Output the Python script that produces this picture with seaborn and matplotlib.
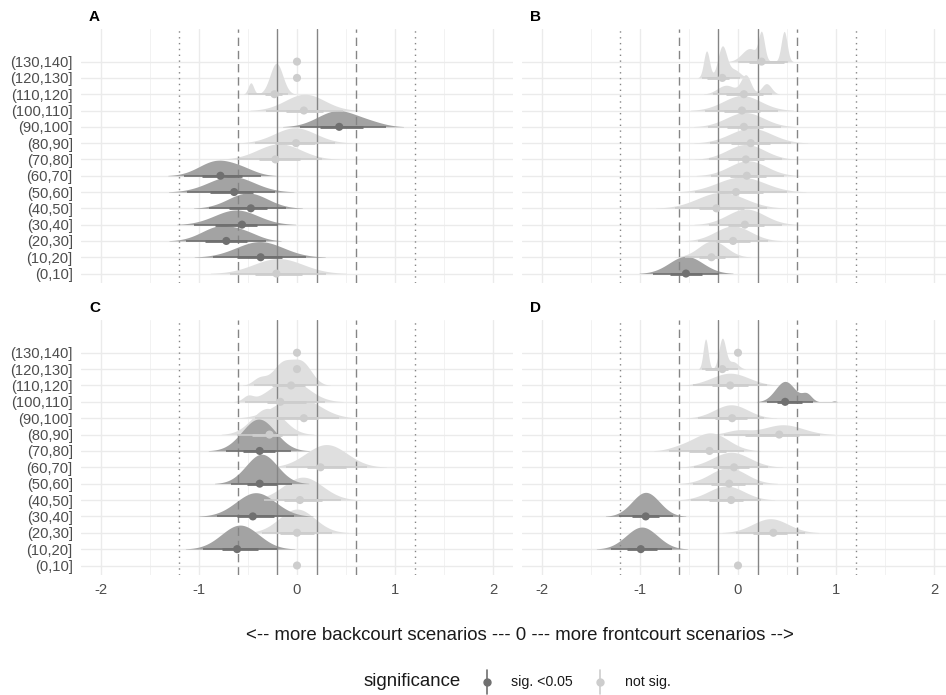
import numpy as np
import pandas as pd
import matplotlib
matplotlib.use("Agg")
import matplotlib.pyplot as plt
import seaborn as sns
from matplotlib.lines import Line2D

# ---------------- data ----------------
rows = ["(0,10]", "(10,20]", "(20,30]", "(30,40]", "(40,50]", "(50,60]", "(60,70]",
        "(70,80]", "(80,90]", "(90,100]", "(100,110]", "(110,120]", "(120,130]", "(130,140]"]
panels = ["A", "B", "C", "D"]

# point estimates (medians)
A_median = [-0.21, -0.37, -0.72, -0.56, -0.47, -0.64, -0.78, -0.22, -0.01, 0.43, 0.07, -0.23, 0.0, 0.0]
B_median = [-0.53, -0.27, -0.05, 0.07, -0.22, -0.02, 0.09, 0.08, 0.13, 0.06, 0.04, 0.06, -0.16, 0.24]
C_median = [0.0, -0.61, 0.0, -0.45, 0.03, -0.38, 0.24, -0.38, -0.28, 0.07, -0.17, -0.06, 0.0, 0.0]
D_median = [0.0, -0.99, 0.36, -0.94, -0.07, -0.09, -0.04, -0.29, 0.42, -0.06, 0.48, -0.08, -0.16, 0.0]

# significance flags (1 = sig. <0.05)
A_sig = [0, 1, 1, 1, 1, 1, 1, 0, 0, 1, 0, 0, 0, 0]
B_sig = [1, 0, 0, 0, 0, 0, 0, 0, 0, 0, 0, 0, 0, 0]
C_sig = [0, 1, 0, 1, 0, 1, 0, 1, 0, 0, 0, 0, 0, 0]
D_sig = [0, 1, 0, 1, 0, 0, 0, 0, 0, 0, 1, 0, 0, 0]

# posterior slab shapes per row: list of (centre, spread, peak height in rows)
A_slab = [[(-0.19, 0.25, 0.92)], [(-0.38, 0.24, 0.96)], [(-0.78, 0.19, 0.9), (-0.5, 0.14, 0.3)],
          [(-0.62, 0.22, 0.9)], [(-0.5, 0.2, 0.94)], [(-0.67, 0.23, 0.96)],
          [(-0.82, 0.18, 0.9), (-0.55, 0.14, 0.3)], [(-0.18, 0.22, 0.96)], [(-0.02, 0.21, 0.94)],
          [(0.41, 0.2, 0.98), (0.75, 0.15, 0.2)], [(0.08, 0.2, 1.0)],
          [(-0.21, 0.065, 1.9), (-0.47, 0.028, 0.7)], [], []]
B_slab = [[(-0.53, 0.17, 1.06)], [(-0.26, 0.14, 1.0)], [(-0.05, 0.18, 0.92)], [(0.08, 0.19, 0.96)],
          [(-0.17, 0.24, 0.98)], [(0.03, 0.24, 0.92)], [(0.1, 0.19, 0.92)], [(0.08, 0.19, 0.92)],
          [(0.13, 0.21, 0.92)], [(0.07, 0.19, 0.88)], [(0.04, 0.19, 0.92)],
          [(0.08, 0.05, 1.15), (0.29, 0.05, 0.65), (-0.12, 0.09, 0.55)],
          [(-0.32, 0.03, 1.65), (-0.16, 0.045, 1.9), (-0.04, 0.06, 0.5)],
          [(0.12, 0.08, 0.8), (0.24, 0.03, 1.6), (0.47, 0.03, 1.85)]]
C_slab = [[], [(-0.58, 0.19, 1.47)], [(0.0, 0.18, 1.45)], [(-0.42, 0.2, 1.45)], [(0.06, 0.2, 1.4)],
          [(-0.36, 0.16, 1.8)], [(0.3, 0.21, 1.39)], [(-0.39, 0.17, 1.95)], [(-0.3, 0.16, 1.6)],
          [(0.0, 0.22, 1.3)], [(-0.08, 0.19, 1.35), (-0.5, 0.05, 0.3)],
          [(-0.15, 0.1, 1.3), (0.05, 0.1, 1.35), (-0.38, 0.07, 0.45)], [], []]
D_slab = [[], [(-0.98, 0.16, 1.35)], [(0.33, 0.18, 0.86)], [(-0.94, 0.14, 1.47)], [(-0.12, 0.18, 0.86)],
          [(-0.1, 0.18, 0.98)], [(-0.07, 0.19, 0.92)], [(-0.28, 0.18, 1.1), (-0.6, 0.12, 0.15)],
          [(0.46, 0.2, 0.6), (0.0, 0.12, 0.25)], [(-0.07, 0.17, 0.82)],
          [(0.48, 0.1, 1.25), (0.7, 0.05, 0.45), (0.98, 0.02, 0.06)], [(-0.08, 0.19, 0.75)],
          [(-0.33, 0.025, 1.84), (-0.16, 0.035, 1.85), (-0.05, 0.05, 0.45)], []]

ref_x = [-1.2, -0.6, -0.2, 0.2, 0.6, 1.2]
ref_style = ["dotted", "dashed", "solid", "solid", "dashed", "dotted"]

medians = {"A": A_median, "B": B_median, "C": C_median, "D": D_median}
sigs = {"A": A_sig, "B": B_sig, "C": C_sig, "D": D_sig}
slabs = {"A": A_slab, "B": B_slab, "C": C_slab, "D": D_slab}

# ---------------- styling ----------------
sns.set_theme(style="whitegrid")
plt.rcParams["font.family"] = ["Liberation Sans", "DejaVu Sans"]

DARK_SLAB, DARK_PT = "#a3a3a3", "#707070"
LIGHT_SLAB, LIGHT_PT = "#dfdfdf", "#cdcdcd"
REF_COL = "#858585"

W, H = 946, 695
fig = plt.figure(figsize=(W / 100, H / 100), dpi=100)

def frac_box(l, r, t, b):
    return [l / W, 1 - b / H, (r - l) / W, (b - t) / H]

boxes = {"A": frac_box(81, 513, 29, 283), "B": frac_box(522, 954, 29, 283),
         "C": frac_box(81, 513, 320, 575), "D": frac_box(522, 954, 320, 575)}
label_pos = {"A": (89, 17), "B": (530, 17), "C": (89, 308), "D": (530, 308)}

xs = np.linspace(-2.2, 2.2, 2000)

for p in panels:
    ax = fig.add_axes(boxes[p])
    ax.set_xlim(-2.2, 2.2)
    ax.set_ylim(-0.58, 15.0)
    ax.set_facecolor("white")
    for s in ax.spines.values():
        s.set_visible(False)
    ax.set_xticks([-2, -1, 0, 1, 2])
    ax.set_xticks([-1.5, -0.5, 0.5, 1.5], minor=True)
    ax.set_yticks(range(len(rows)))
    ax.grid(which="major", color="#ebebeb", lw=1.0, zorder=0)
    ax.grid(which="minor", axis="x", color="#f2f2f2", lw=0.7, zorder=0)
    ax.set_axisbelow(True)
    ax.tick_params(which="both", length=0, colors="#4d4d4d", labelsize=10.6)
    ax.tick_params(axis="x", pad=5.5)
    ax.tick_params(axis="y", pad=6.0)
    if p in ("A", "C"):
        ax.set_yticklabels(rows)
    else:
        ax.set_yticklabels([])
    if p in ("C", "D"):
        ax.set_xticklabels(["-2", "-1", "0", "1", "2"])
    else:
        ax.set_xticklabels([])

    med, sig, slab = medians[p], sigs[p], slabs[p]
    recs = []
    # slabs: light first, then dark on top; lower rows on top of upper rows
    order = sorted(range(len(rows)), key=lambda i: (sig[i], -i))
    for k, i in enumerate(order):
        comps = slab[i]
        if comps:
            dens = np.zeros_like(xs)
            for c, s, h in comps:
                dens += h * np.exp(-0.5 * ((xs - c) / s) ** 2)
            mask = dens > 0.02
            col = DARK_SLAB if sig[i] else LIGHT_SLAB
            ax.fill_between(xs[mask], i, i + dens[mask], color=col, lw=0, zorder=2 + k * 0.01)
            cdf = np.cumsum(dens)
            cdf = cdf / cdf[-1]
            q = np.interp([0.025, 0.17, 0.83, 0.975], cdf, xs)
        else:
            q = [med[i]] * 4
        recs.append(dict(row=i, median=med[i], lo95=q[0], lo66=q[1], hi66=q[2], hi95=q[3],
                         significance="sig. <0.05" if sig[i] else "not sig."))

    for x0, ls in zip(ref_x, ref_style):
        if ls == "dashed":
            ax.axvline(x0, color=REF_COL, lw=1.0, ls=(0, (6, 3.5)), zorder=4)
        elif ls == "dotted":
            ax.axvline(x0, color=REF_COL, lw=1.0, ls=(0, (1, 3.2)), zorder=4)
        else:
            ax.axvline(x0, color=REF_COL, lw=1.0, zorder=4)

    df = pd.DataFrame(recs)
    for _, r in df.iterrows():
        col = DARK_PT if r["significance"] == "sig. <0.05" else LIGHT_PT
        ax.plot([r["lo95"], r["hi95"]], [r["row"], r["row"]], color=col, lw=1.2,
                solid_capstyle="butt", zorder=5)
        ax.plot([r["lo66"], r["hi66"]], [r["row"], r["row"]], color=col, lw=2.0,
                solid_capstyle="butt", zorder=5)
    sns.scatterplot(data=df, x="median", y="row", hue="significance",
                    palette={"sig. <0.05": DARK_PT, "not sig.": LIGHT_PT},
                    s=34, edgecolor="none", legend=False, ax=ax, zorder=6)
    ax.set_xlabel("")
    ax.set_ylabel("")
    ax.set_xlim(-2.2, 2.2)
    ax.set_ylim(-0.58, 15.0)

    lx, ly = label_pos[p]
    fig.text(lx / W, 1 - ly / H, p, fontsize=11, fontweight="bold", ha="left", va="center",
             color="black")

# x-axis title
fig.text(520 / W, 1 - 636 / H, "<-- more backcourt scenarios --- 0 --- more frontcourt scenarios -->",
         fontsize=13.4, ha="center", va="center", color="#1a1a1a")

# legend (drawn manually to mimic ggplot's bottom legend)
ly = 1 - 682 / H
fig.text(364 / W, ly, "significance", fontsize=13.4, ha="left", va="center", color="#1a1a1a")
for kx, col, lab, tx in [(487, DARK_PT, "sig. <0.05", 511), (600, LIGHT_PT, "not sig.", 625)]:
    fig.add_artist(Line2D([kx / W, kx / W], [1 - 670 / H, 1 - 694 / H], color=col, lw=1.2,
                          transform=fig.transFigure))
    fig.add_artist(Line2D([kx / W], [ly], marker="o", markersize=5.0, color=col, lw=0,
                          transform=fig.transFigure))
    fig.text(tx / W, ly, lab, fontsize=10.2, ha="left", va="center", color="#1a1a1a")

fig.savefig("out.png", dpi=100)
